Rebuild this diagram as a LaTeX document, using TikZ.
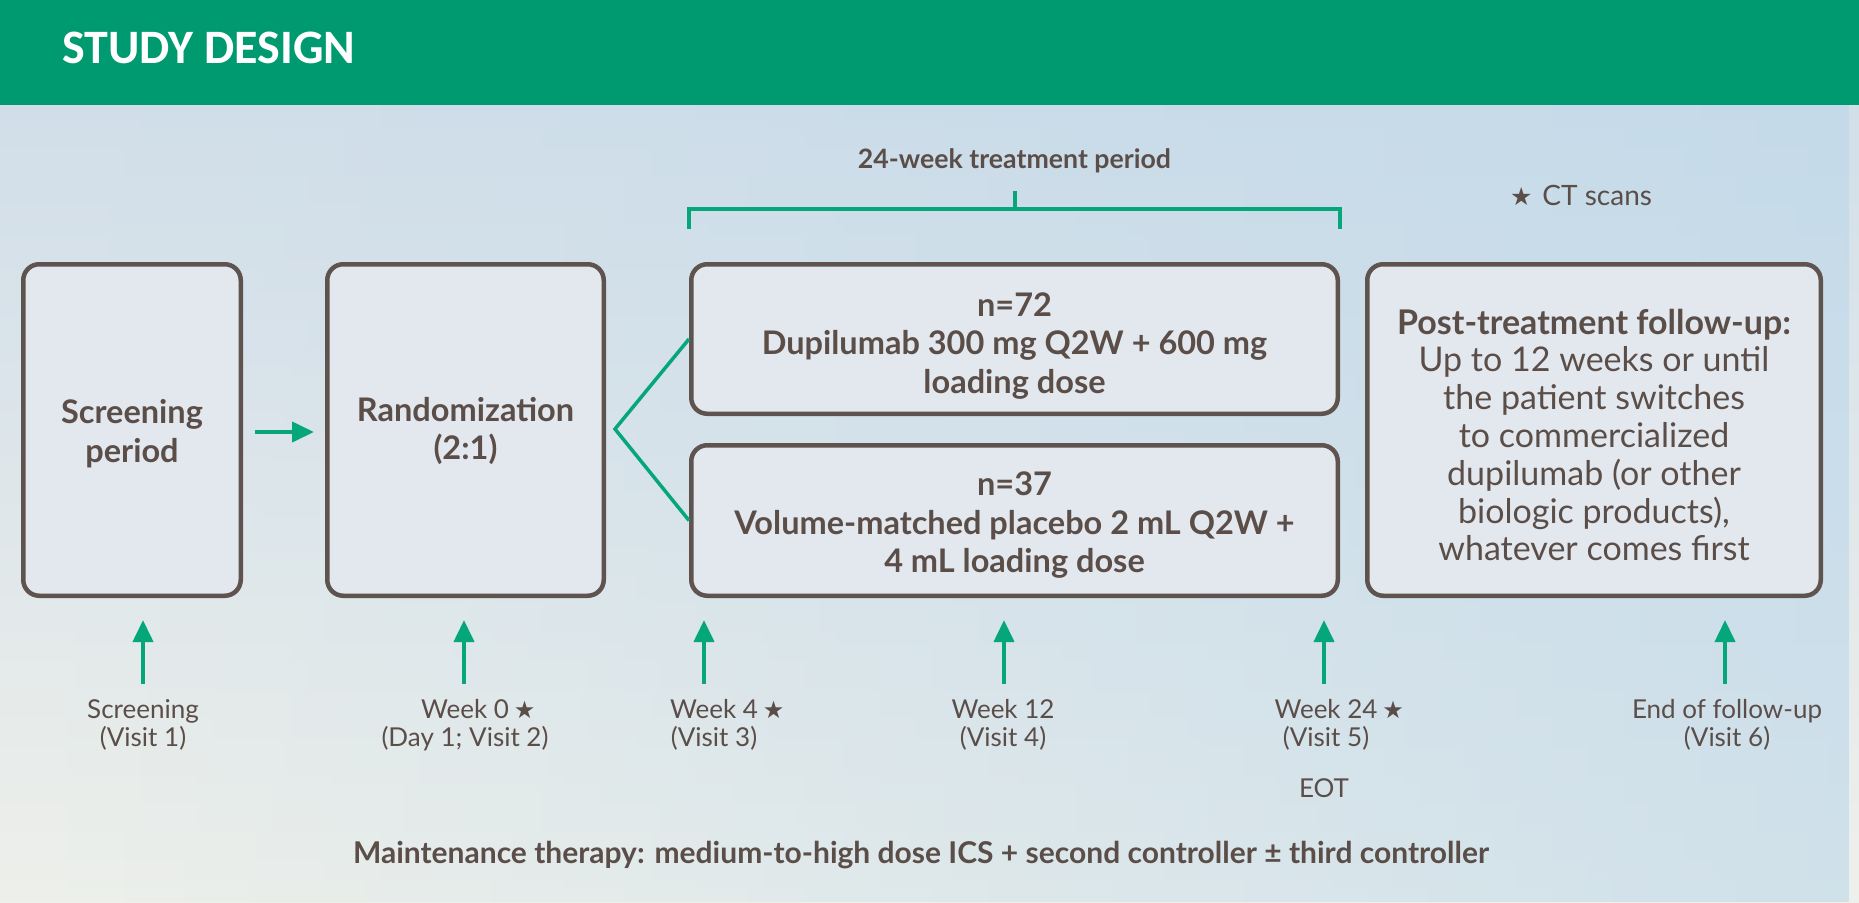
\documentclass[tikz,border=0pt]{standalone}
\usepackage{fontspec}
\setmainfont{Lato}
\newfontfamily\headfont{Carlito}
\newfontfamily\symfont{DejaVu Sans}
\usetikzlibrary{arrows.meta,calc,fadings}

\definecolor{hdr}{HTML}{009A70}
\definecolor{grn}{HTML}{06A67B}
\definecolor{txt}{HTML}{5B4E49}
\definecolor{bord}{HTML}{5E534E}
\definecolor{boxfill}{HTML}{E2E8ED}
\definecolor{bgtop}{HTML}{D2DFE9}
\definecolor{bgbot}{HTML}{EEF0EB}
\definecolor{bgblue}{HTML}{BCD7EA}
\tikzfading[name=fadeR, left color=transparent!100, right color=transparent!0]
\newcommand{\starsym}{{\symfont\fontsize{24}{24}\selectfont ★}}

\begin{document}
\begin{tikzpicture}[x=1pt,y=-1pt,
  box/.style={draw=bord, line width=4.5pt, rounded corners=16pt, fill=boxfill, inner sep=0pt},
  boxtext/.style={text=txt, align=center, inner sep=0pt, font=\bfseries\fontsize{32.5}{38.5}\selectfont},
  lbl/.style={text=txt, font=\fontsize{26}{28}\selectfont, anchor=base, inner sep=0pt},
  uparrow/.style={draw=grn, line width=4pt, -{Triangle[length=22pt,width=20pt]}},
  branch/.style={draw=grn, line width=3.5pt, line join=miter},
  brk/.style={draw=grn, line width=4pt, line join=miter},
]
\useasboundingbox (0,0) rectangle (1859,902);
% background
\shade[top color=bgtop, bottom color=bgbot] (0,105) rectangle (1859,902);
\fill[bgblue, path fading=fadeR, fill opacity=0.6] (0,105) rectangle (1859,902);
\fill[hdr] (0,0) rectangle (1859,105);
\node[anchor=base west, inner sep=0pt, text=white, font=\headfont\bfseries\fontsize{48}{50}\selectfont] (title) at (62,63) {STUDY DESIGN};

% boxes
\node[box, minimum width=217.5pt, minimum height=331.5pt] (scr) at (132,430) {};
\node[box, minimum width=276.5pt, minimum height=331.5pt] (rnd) at (465.5,430) {};
\node[box, minimum width=646.5pt, minimum height=149.5pt] (dup) at (1014.5,339) {};
\node[box, minimum width=646.5pt, minimum height=150.5pt] (pla) at (1014.5,520.5) {};
\node[box, minimum width=453.5pt, minimum height=331.5pt] (post) at (1594,430) {};

\node[boxtext] (scrT) at ($(scr.center)+(0,3.5)$) {Screening\\period};
\node[boxtext] (rndT) at ($(rnd.center)+(0,1)$) {Randomization\\(2:1)};
\node[boxtext] (dupT) at ($(dup.center)+(0,7)$) {n=72\\Dupilumab 300 mg Q2W + 600 mg\\loading dose};
\node[boxtext] (plaT) at ($(pla.center)+(0,5)$) {n=37\\Volume-matched placebo 2 mL Q2W +\\4 mL loading dose};
\node[boxtext, font=\fontsize{34}{37.8}\selectfont] (postT) at ($(post.center)+(0,5)$) {{\bfseries Post-treatment follow-up:}\\Up to 12 weeks or until\\the patient switches\\to commercialized\\dupilumab (or other\\biologic products),\\whatever comes first};

% connectors
\draw[uparrow] ($(scr.east)+(12,2)$) -- ($(rnd.west)+(-11,2)$);
\coordinate (apex) at ($(rnd.east)+(9,-1)$);
\draw[branch] (dup.west) -- (apex) -- (pla.west);

% bracket
\coordinate (bl) at (689,229);
\coordinate (bm) at (1014.5,209);
\coordinate (br) at (1340,229);
\coordinate (bt) at (1014.5,191);
\draw[brk] (bl) |- (bm) -| (br);
\draw[brk] (bm) -- (bt);
\node[lbl, font=\bfseries\fontsize{26.7}{30}\selectfont] (per) at (1014.5,168) {24-week treatment period};
\node[lbl, font=\fontsize{28}{30}\selectfont] (ct) at (1581,205) {{\symfont\fontsize{25}{25}\selectfont ★}\hspace{10pt}CT scans};

% visit arrows
\coordinate (a1b) at (143,684);  \coordinate (a1t) at (143,620);
\coordinate (a2b) at (464,684);  \coordinate (a2t) at (464,620);
\coordinate (a3b) at (704,684);  \coordinate (a3t) at (704,620);
\coordinate (a4b) at (1004,684); \coordinate (a4t) at (1004,620);
\coordinate (a5b) at (1324,684); \coordinate (a5t) at (1324,620);
\coordinate (a6b) at (1725,684); \coordinate (a6t) at (1725,620);
\draw[uparrow] (a1b) -- (a1t);
\draw[uparrow] (a2b) -- (a2t);
\draw[uparrow] (a3b) -- (a3t);
\draw[uparrow] (a4b) -- (a4t);
\draw[uparrow] (a5b) -- (a5t);
\draw[uparrow] (a6b) -- (a6t);

% visit labels
\node[lbl] (l1a) at (143,718) {Screening};
\node[lbl] (l1b) at (143,746) {(Visit 1)};
\node[lbl] (l2a) at (465,718) {Week 0\rlap{\hspace{5pt}\starsym}};
\node[lbl] (l2b) at (465,746) {(Day 1; Visit 2)};
\node[lbl] (l3a) at (714,718) {Week 4\rlap{\hspace{5pt}\starsym}};
\node[lbl] (l3b) at (714,746) {(Visit 3)};
\node[lbl] (l4a) at (1003,718) {Week 12};
\node[lbl] (l4b) at (1003,746) {(Visit 4)};
\node[lbl] (l5a) at (1326,718) {Week 24\rlap{\hspace{5pt}\starsym}};
\node[lbl] (l5b) at (1326,746) {(Visit 5)};
\node[lbl] (l6a) at (1727,718) {End of follow-up};
\node[lbl] (l6b) at (1727,746) {(Visit 6)};
\node[lbl] (eot) at (1324,797) {EOT};

\node[lbl, font=\bfseries\fontsize{30}{32}\selectfont] (maint) at (921,863) {Maintenance therapy: medium-to-high dose ICS + second controller ± third controller};
\end{tikzpicture}
\end{document}
